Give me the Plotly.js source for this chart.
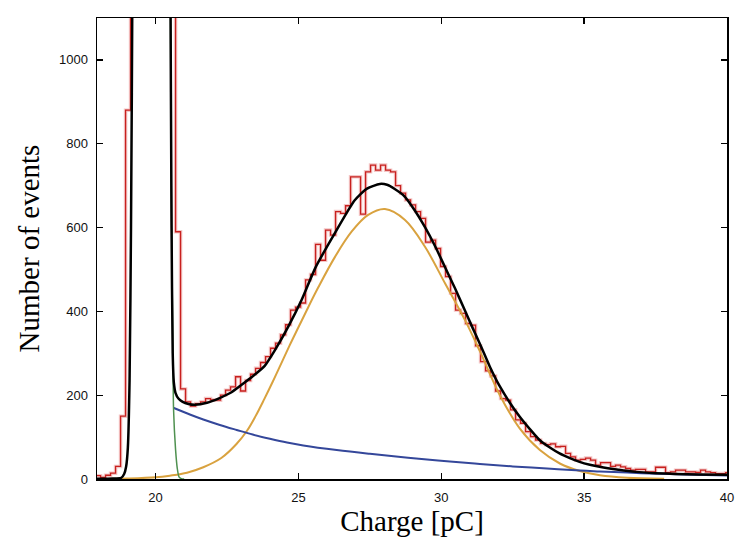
<!DOCTYPE html>
<html>
<head>
<meta charset="utf-8">
<script src="https://cdn.plot.ly/plotly-3.0.1.min.js"></script>
<style>html,body{margin:0;padding:0;background:#fff;}#chart{width:750px;height:537px;}</style>
</head>
<body>
<div id="chart"></div>
<script>
// ---- Histogram (measured charge spectrum) ----
const histStart = 17.9;      // left edge of first bin [pC]
const histBinWidth = 0.175;  // bin width [pC]
const histCounts = [
  8, 4, 9, 14, 30, 150, 880,
  9000, 30000, 45000, 38000, 22000, 12000, 6000, 2500, 1600,
  590, 215, 184, 174, 180, 184, 192, 189, 188, 200,
  212, 220, 244, 210, 235, 250, 264, 278, 292, 312,
  324, 344, 368, 403, 410, 420, 475, 488, 560, 522,
  594, 582, 638, 634, 652, 721, 721, 632, 733, 749,
  737, 749, 737, 733, 700, 682, 666, 654, 638, 622,
  565, 570, 550, 507, 483, 443, 403, 395, 371, 367,
  318, 280, 258, 246, 210, 192, 188, 165, 141, 133,
  113, 101, 93, 85, 82, 84, 77, 78, 61, 53,
  45, 47, 50, 45, 33, 39, 39, 30, 33, 29,
  25, 21, 23, 23, 17, 17, 28, 28, 15, 17,
  21, 21, 17, 17, 16, 21, 17, 15, 13, 13, 15
];

// ---- Total fit (black) ----
const fitTotalX = [17.95, 18.5, 18.8, 18.9, 18.97, 19.03, 19.09, 19.14, 19.19, 19.25,
  20.45, 20.52, 20.56, 20.6, 20.64, 20.7, 20.8, 20.95, 21.15, 21.38, 21.8, 22.2, 22.66,
  23.0, 23.4, 23.82, 24.2, 24.64, 25.11, 25.6, 26.27, 26.97, 27.4, 27.85, 28.1, 28.37,
  28.72, 29.08, 29.42, 29.78, 30.12, 30.48, 30.82, 31.1, 31.4, 31.7, 32.04, 32.4, 32.74,
  33.1, 33.44, 33.8, 34.14, 34.5, 34.84, 35.2, 35.54, 36.2, 36.82, 37.5, 38.2, 39.0, 40.0];
const fitTotalY = [0.5, 1, 3, 12, 30, 75, 236, 600, 1200, 3000,
  3000, 1200, 600, 300, 230, 205, 192, 184, 179, 177, 182, 192, 207,
  224, 245, 270, 310, 363, 427, 505, 586, 665, 693, 704, 702, 692,
  674, 640, 602, 556, 507, 455, 403, 360, 315, 268, 222, 182, 149,
  119, 93, 75, 61, 50, 41, 34, 29, 22, 17, 14, 12, 11, 10];

// ---- Signal Gaussian (orange) ----
const sigX = [18.3, 19.0, 20.0, 20.5, 21.1, 21.67, 22.3, 22.84, 23.2, 23.5, 23.8, 24.1,
  24.4, 24.7, 25.0, 25.3, 25.7, 26.28, 26.86, 27.44, 28.03, 28.73, 29.43, 30.13, 30.83,
  31.35, 32.05, 32.75, 33.45, 34.15, 34.85, 35.55, 36.5, 37.8];
const sigY = [0, 1, 4, 8, 15, 28, 50, 84, 115, 150, 190, 232,
  276, 320, 362, 404, 458, 530, 590, 630, 644, 618, 554, 467, 379,
  305, 200, 120, 69, 37, 19, 9, 3, 0.5];

// ---- Background (blue) ----
const bkgX = [20.62, 21.2, 21.67, 22.25, 22.84, 23.4, 24.0, 24.6, 25.17, 26.34,
  27.5, 28.5, 29.5, 30.3, 31.35, 32.5, 33.7, 34.87, 35.55, 37.0, 38.5, 40.0];
const bkgY = [170, 154, 142, 129, 117, 106, 96, 87, 80, 69,
  60, 53, 46.5, 42, 36, 30, 25, 20, 18, 14, 11, 8.5];

// ---- Pedestal tail (green) ----
const pedX = [20.45, 20.5, 20.55, 20.6, 20.63, 20.7, 20.76, 20.82, 20.9, 21.0];
const pedY = [3000, 1500, 700, 330, 165, 70, 25, 5, 1, 0];

// build step coordinates from bin edges
const stepX = [], stepY = [];
for (let i = 0; i < histCounts.length; i++) {
  stepX.push(histStart + i * histBinWidth);
  stepY.push(histCounts[i]);
}
stepX.push(histStart + histCounts.length * histBinWidth);
stepY.push(histCounts[histCounts.length - 1]);

const traces = [
  {x: stepX, y: stepY, type: 'scatter', mode: 'lines', line: {shape: 'hv', color: 'rgba(215,70,70,0.3)', width: 3.5}, hoverinfo: 'skip'},
  {x: stepX, y: stepY, type: 'scatter', mode: 'lines', line: {shape: 'hv', color: '#c8201e', width: 1.3}},
  {x: sigX, y: sigY, type: 'scatter', mode: 'lines', line: {shape: 'spline', smoothing: 1, color: '#d9a23f', width: 2}},
  {x: bkgX, y: bkgY, type: 'scatter', mode: 'lines', line: {shape: 'spline', smoothing: 1, color: '#34479a', width: 2}},
  {x: pedX, y: pedY, type: 'scatter', mode: 'lines', line: {shape: 'spline', smoothing: 0.6, color: '#4f9150', width: 1.5}},
  {x: fitTotalX, y: fitTotalY, type: 'scatter', mode: 'lines', line: {shape: 'spline', smoothing: 0.6, color: '#000000', width: 2.5}}
];

const axisCommon = {
  showline: true, linecolor: '#000', linewidth: 1.5, mirror: 'ticks',
  ticks: 'inside', ticklen: 6, tickwidth: 1.3, tickcolor: '#000',
  showgrid: false, zeroline: false,
  tickfont: {family: 'Liberation Sans, Arial, sans-serif', size: 13, color: '#111'}
};

const layout = {
  width: 750, height: 537,
  margin: {l: 97, r: 23, t: 18, b: 58},
  paper_bgcolor: '#fff', plot_bgcolor: '#fff',
  showlegend: false,
  xaxis: Object.assign({}, axisCommon, {
    range: [17.95, 40], tick0: 0, dtick: 5, ticklabelstandoff: 6,
    title: {text: 'Charge [pC]', font: {family: 'Liberation Serif, Times New Roman, serif', size: 29, color: '#000'}, standoff: 5}
  }),
  yaxis: Object.assign({}, axisCommon, {
    range: [0, 1100], tick0: 0, dtick: 200, ticklabelstandoff: 5,
    title: {text: 'Number of events', font: {family: 'Liberation Serif, Times New Roman, serif', size: 29, color: '#000'}, standoff: 11}
  })
};

Plotly.newPlot('chart', traces, layout, {staticPlot: true, displayModeBar: false});
</script>
</body>
</html>
